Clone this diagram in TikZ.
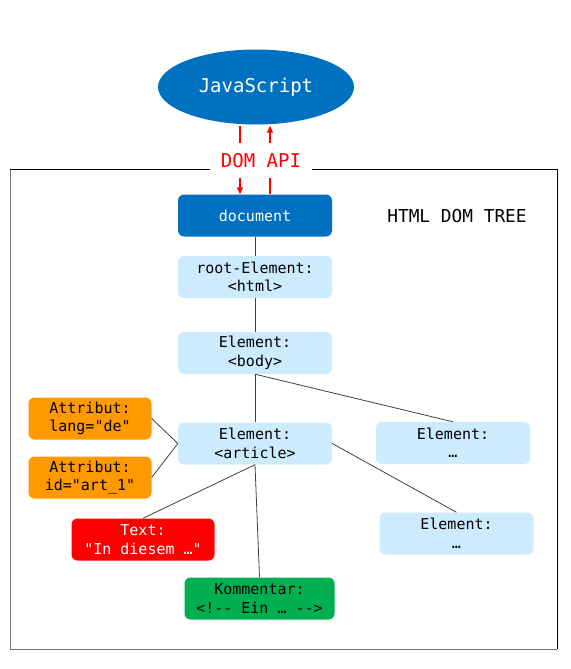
\documentclass[tikz,border=0pt]{standalone}
\usepackage{fontspec}
\setmonofont{DejaVu Sans Mono}
\usetikzlibrary{shapes.geometric,arrows.meta}
\definecolor{jsblue}{RGB}{0,112,192}
\definecolor{elemblue}{RGB}{204,235,255}
\definecolor{attrorange}{RGB}{255,153,0}
\definecolor{commentgreen}{RGB}{0,176,80}
\tikzset{box/.style = {rectangle, rounded corners=6pt, align=center,
  minimum width=154pt, minimum height=42pt, inner sep=0pt,
  font=\ttfamily\fontsize{15}{18.5}\selectfont}}
\tikzset{elem/.style = {box, fill=elemblue}}
\tikzset{attr/.style = {box, fill=attrorange, minimum width=123pt}}
\tikzset{bigtext/.style = {font=\ttfamily\fontsize{19}{22}\selectfont}}
\tikzset{treeline/.style = {draw=black!75, line width=0.8pt}}
\tikzset{apiarrow/.style = {draw=red, line width=1.2pt,
  -{Triangle[length=7pt, width=6pt]}}}
\tikzset{every node/.append style = {font=\ttfamily}}

\begin{document}
\begin{tikzpicture}[x=1pt, y=-1pt]
  \useasboundingbox (0,0) rectangle (570,669);
  \node[ellipse, fill=jsblue, text=white, bigtext, inner sep=0pt,
    minimum width=196pt, minimum height=75pt] (js) at (256,87) {JavaScript};
  \node[box, fill=jsblue, text=white] (doc) at (255,215.5) {document};
  \node[font=\ttfamily\fontsize{17.8}{20}\selectfont] (title) at (457,216) {HTML DOM TREE};
  \node[elem] (root) at (255,277) {root-Element:\\<html>};
  \node[elem] (body) at (255,353) {Element:\\<body>};
  \node[elem] (article) at (255,443.5) {Element:\\<article>};
  \node[elem] (elem1) at (453,443) {Element:\\…};
  \node[elem] (elem2) at (456.5,533.5) {Element:\\…};
  \node[attr] (lang) at (90,418.5) {Attribut:\\lang="de"};
  \node[attr] (id) at (90,477.5) {Attribut:\\id="art\_1"};
  \node[box, fill=red, text=white, minimum width=143pt] (text) at (143,539.5)
    {Text:\\"In diesem …"};
  \node[box, fill=commentgreen, minimum width=150pt] (comment) at (259.5,598.5)
    {Kommentar:\\<!-- Ein … -->};

  \coordinate (frame nw) at (10,169);
  \coordinate (frame se) at (557,649);
  \draw[black!55, line width=1pt] (frame nw) |- (frame se);
  \draw[black, line width=1pt] (frame nw) -| (frame se);

  \draw[apiarrow] ([xshift=-16pt, yshift=-1pt]js.south) -- ([xshift=-15pt]doc.north);
  \draw[apiarrow] ([xshift=15pt]doc.north) -- ([xshift=14pt, yshift=-1pt]js.south);
  \node[fill=white, text=red, bigtext, inner sep=0pt,
    minimum width=102pt, minimum height=35pt] (api) at (261,160.5) {DOM API};

  \draw[treeline] (doc) -- (root);
  \draw[treeline] (root) -- (body);
  \draw[treeline] (body) -- (article);
  \draw[treeline] (body.south) -- (elem1.north);
  \draw[treeline] (article.east) -- (elem2.north);
  \draw[treeline] (article.west) -- (lang.east);
  \draw[treeline] (article.west) -- (id.east);
  \draw[treeline] (article.south) -- (text.north);
  \draw[treeline] (article.south) -- (comment.north);
\end{tikzpicture}
\end{document}
